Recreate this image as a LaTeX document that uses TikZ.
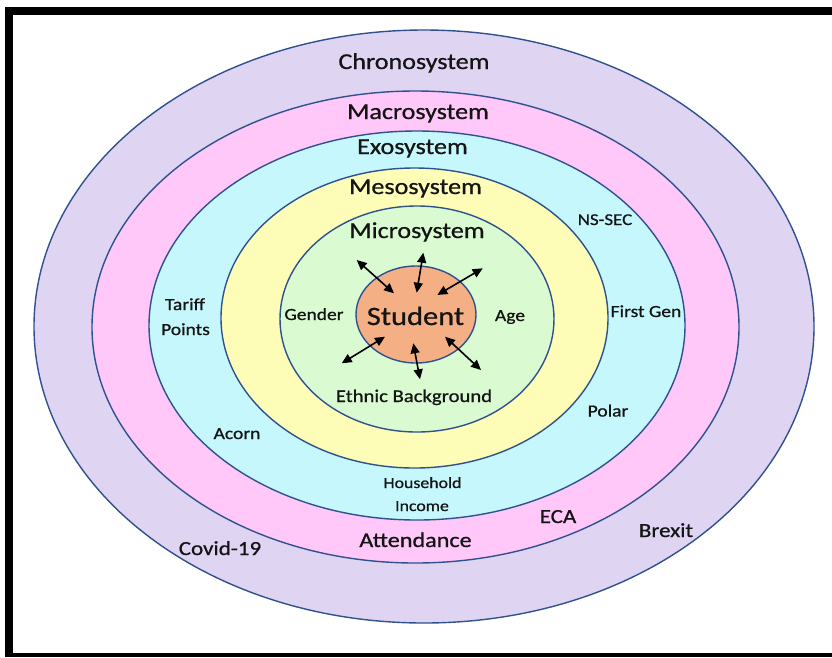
\documentclass[tikz,border=0pt]{standalone}
\usepackage{fontspec}
\setmainfont{Carlito}
\newfontfamily\lblfont{Carlito}[FakeBold=0.7]
\usetikzlibrary{arrows.meta}

\definecolor{ringline}{HTML}{2F528F}
\definecolor{chronofill}{HTML}{E0D4F3}
\definecolor{macrofill}{HTML}{FFC8F8}
\definecolor{exofill}{HTML}{C5F7FC}
\definecolor{mesofill}{HTML}{FDFDB8}
\definecolor{microfill}{HTML}{DAFAD1}
\definecolor{studentfill}{HTML}{F4AF84}
\definecolor{labeltext}{HTML}{141414}

\tikzset{
  ring/.style={draw=ringline, line width=1.4pt},
  lbl/.style={anchor=base, inner sep=0pt, text=labeltext, xscale=1.15, transform shape},
  ringlbl/.style={lbl, font=\lblfont\fontsize{22.7}{26}\selectfont},
  smalllbl/.style={lbl, font=\lblfont\fontsize{17}{20}\selectfont},
  midlbl/.style={lbl, font=\lblfont\fontsize{20}{24}\selectfont},
  biarrow/.style={draw=black, line width=1.6pt,
    {Triangle[length=10pt,width=9pt]}-{Triangle[length=10pt,width=9pt]}}
}

\begin{document}
\begin{tikzpicture}[x=1pt, y=-1pt]
  \useasboundingbox (0,0) rectangle (832,657);
  \fill[white] (0,0) rectangle (832,657);

  % black frame (left, top and bottom bars)
  \fill[black] (5,7) rectangle (832,15);
  \fill[black] (5,7) rectangle (13,657);
  \fill[black] (5,653) rectangle (832,657);

  % nested system rings, outermost first
  \filldraw[ring, fill=chronofill] (424,326.5) ellipse [x radius=390, y radius=296.5];
  \filldraw[ring, fill=macrofill]  (415.5,327) ellipse [x radius=323.5, y radius=236];
  \filldraw[ring, fill=exofill]    (417,325.5) ellipse [x radius=268, y radius=194.5];
  \filldraw[ring, fill=mesofill]   (414.5,318) ellipse [x radius=193.5, y radius=150];
  \filldraw[ring, fill=microfill]  (417,319) ellipse [x radius=137, y radius=113];
  \filldraw[ring, fill=studentfill] (416,314.5) ellipse [x radius=60, y radius=48.5];

  % ring titles
  \node[ringlbl] (chrono) at (414,69)  {Chronosystem};
  \node[ringlbl] (macro)  at (418,119) {Macrosystem};
  \node[ringlbl] (exo)    at (412.5,154) {Exosystem};
  \node[ringlbl] (meso)   at (415.5,194) {Mesosystem};
  \node[ringlbl] (micro)  at (417,238) {Microsystem};
  \node[lbl, font=\lblfont\fontsize{26.5}{30}\selectfont] (student) at (415.5,325) {Student};

  % microsystem factors
  \node[smalllbl] (gender) at (314,320) {Gender};
  \node[smalllbl] (age)    at (510,321) {Age};
  \node[lbl, font=\lblfont\fontsize{18}{21}\selectfont] (ethnic) at (414,402) {Ethnic Background};

  % exosystem factors
  \node[smalllbl] (tariff) at (185,310) {Tariff};
  \node[smalllbl] (points) at (185.5,335) {Points};
  \node[smalllbl] (acorn)  at (237,439) {Acorn};
  \node[lbl, font=\lblfont\fontsize{16.5}{20}\selectfont] (nssec) at (605,225) {NS-SEC};
  \node[smalllbl] (firstgen) at (646,317) {First Gen};
  \node[smalllbl] (polar)  at (608,416.5) {Polar};
  \node[lbl, font=\lblfont\fontsize{15.5}{19}\selectfont] (household) at (422.5,488) {Household};
  \node[lbl, font=\lblfont\fontsize{15.5}{19}\selectfont] (income)    at (422,511) {Income};

  % macrosystem and chronosystem factors
  \node[lbl, font=\lblfont\fontsize{21}{25}\selectfont] (attend) at (415.5,547) {Attendance};
  \node[midlbl] (eca)    at (558,523) {ECA};
  \node[midlbl] (brexit) at (666,537) {Brexit};
  \node[midlbl] (covid)  at (220,555) {Covid-19};

  % arrow end points around the student
  \coordinate (ulo) at (356.7,260);   \coordinate (uli) at (394,293.3);
  \coordinate (to)  at (423.3,252.7); \coordinate (ti)  at (416.7,292.7);
  \coordinate (uro) at (482.7,268.3); \coordinate (uri) at (437.3,295);
  \coordinate (llo) at (341.7,363.3); \coordinate (lli) at (385,336.7);
  \coordinate (bo)  at (420,379.3);   \coordinate (bi)  at (413.3,343.3);
  \coordinate (lro) at (481,370);     \coordinate (lri) at (445,336.7);

  \draw[biarrow] (ulo) -- (uli);
  \draw[biarrow] (to) -- (ti);
  \draw[biarrow] (uro) -- (uri);
  \draw[biarrow] (llo) -- (lli);
  \draw[biarrow] (bi) -- (bo);
  \draw[biarrow] (lri) -- (lro);
\end{tikzpicture}
\end{document}
